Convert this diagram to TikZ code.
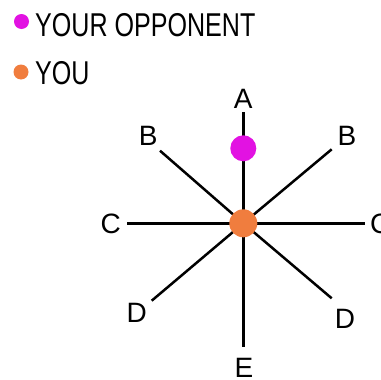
\documentclass[tikz,border=0pt]{standalone}
\usepackage{fontspec}
\setmainfont{Liberation Sans}
\newfontfamily\legendfont[FakeStretch=0.76]{Liberation Sans}
\usetikzlibrary{backgrounds}
\definecolor{oppcol}{RGB}{226,18,226}
\definecolor{youcol}{RGB}{240,125,62}
\begin{document}
\begin{tikzpicture}[x=1pt,y=-1pt,
  spoke/.style={line width=2.5pt,black},
  dot/.style={circle,fill=#1,draw=none,inner sep=0pt},
  lbl/.style={font=\fontsize{28}{28}\selectfont,inner sep=0pt},
  legendtxt/.style={font=\legendfont\fontsize{33}{33}\selectfont,anchor=base west,inner sep=0pt}]
\useasboundingbox (0,0) rectangle (381,380);
% legend
\node[dot=oppcol,minimum size=15pt] (ldopp) at (21.5,21.5) {};
\node[legendtxt] (ltopp) at (35,36.5) {YOUR OPPONENT};
\node[dot=youcol,minimum size=15pt] (ldyou) at (21,72) {};
\node[legendtxt] (ltyou) at (35,84.5) {YOU};
% dots
\node[dot=youcol,minimum size=28pt] (you) at (243.3,223.3) {};
\node[dot=oppcol,minimum size=26pt] (opp) at (243.3,148.3) {};
% spoke ends
\coordinate (eA) at (243.3,111.7);
\coordinate (eBl) at (160,150.7);
\coordinate (eBr) at (331.7,149.3);
\coordinate (eCl) at (126.7,223.3);
\coordinate (eCr) at (365,223.3);
\coordinate (eDl) at (151.7,300.7);
\coordinate (eDr) at (331.7,298.3);
\coordinate (eE) at (243.3,346.7);
\begin{scope}[on background layer]
\draw[spoke] (you.center) -- (eA);
\draw[spoke] (you.center) -- (eBl);
\draw[spoke] (you.center) -- (eBr);
\draw[spoke] (you.center) -- (eCl);
\draw[spoke] (you.center) -- (eCr);
\draw[spoke] (you.center) -- (eDl);
\draw[spoke] (you.center) -- (eDr);
\draw[spoke] (you.center) -- (eE);
\end{scope}
% labels
\node[lbl] (lA) at (243.3,98.8) {A};
\node[lbl] (lBl) at (148.3,136) {B};
\node[lbl] (lBr) at (347,136.3) {B};
\node[lbl] (lCl) at (110.8,223.7) {C};
\node[lbl,anchor=west] (lCr) at (370,223.7) {C};
\node[lbl] (lDl) at (136.7,312.5) {D};
\node[lbl] (lDr) at (345,319) {D};
\node[lbl] (lE) at (244,368) {E};
\end{tikzpicture}
\end{document}
